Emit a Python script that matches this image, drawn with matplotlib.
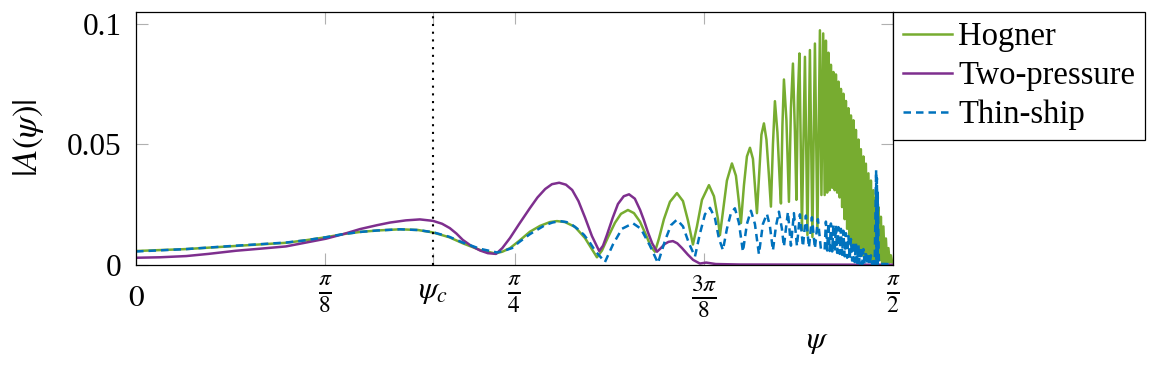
import numpy as np
import matplotlib
matplotlib.use("Agg")
import matplotlib.pyplot as plt

# far-field amplitude |A(psi)| for three ship-wave models
psi_c = 0.6155  # critical angle arctan(1/sqrt(2))

hogner_psi = [0.000, 0.104, 0.207, 0.311, 0.350, 0.394, 0.430, 0.465, 0.500, 0.548, 0.585, 0.616, 0.650,
              0.678, 0.714, 0.745, 0.760, 0.776, 0.795,
              0.8174, 0.8382, 0.8589, 0.8734, 0.8900, 0.9108, 0.9315, 0.9461, 0.9564, 0.9668, 0.9793,
              0.9938, 1.0062, 1.0207, 1.0332, 1.0456, 1.0581, 1.0685, 1.0768, 1.0851, 1.0954, 1.1079,
              1.1224, 1.1349, 1.1452, 1.1556, 1.1639, 1.1743, 1.1888, 1.1992, 1.2075, 1.2116, 1.2178,
              1.2261, 1.2365, 1.2448, 1.2510, 1.2552, 1.2614, 1.2676, 1.2739, 1.2801, 1.2842, 1.2884,
              1.2936, 1.2977, 1.3029, 1.3081, 1.3133, 1.3174, 1.3216, 1.3257, 1.3309, 1.3361, 1.3382,
              1.3413, 1.3444, 1.3496, 1.3548, 1.3589, 1.3631, 1.3672, 1.3703, 1.3734, 1.3766, 1.3817,
              1.3880, 1.3932, 1.3983, 1.4035, 1.4087, 1.4139, 1.4191, 1.4222, 1.4259,
              1.4289, 1.4315, 1.4341, 1.4367, 1.4393, 1.4419, 1.4445, 1.4471, 1.4497, 1.4523,
              1.4549, 1.4575, 1.4601, 1.4627, 1.4652, 1.4678, 1.4704, 1.4730, 1.4756, 1.4782,
              1.4808, 1.4834, 1.4860, 1.4886, 1.4912, 1.4938, 1.4964, 1.4990, 1.5015, 1.5041,
              1.5067, 1.5093, 1.5119, 1.5145, 1.5171, 1.5197, 1.5223, 1.5249, 1.5275, 1.5301,
              1.5327, 1.5353, 1.5379, 1.5405, 1.5430, 1.5456, 1.5482, 1.5508, 1.5534, 1.5560,
              1.5586, 1.5612, 1.5638, 1.5664, 1.5690, 1.5705]
hogner_amp = [0.0058, 0.0066, 0.0079, 0.0092, 0.0102, 0.0115, 0.0128, 0.0137, 0.0143, 0.0148, 0.0145, 0.0135, 0.0115,
              0.0090, 0.0062, 0.0048, 0.0055, 0.0070, 0.0100,
              0.0138, 0.0162, 0.0178, 0.0182, 0.0178, 0.0158, 0.0112, 0.0065, 0.0032, 0.0060, 0.0115,
              0.0175, 0.0212, 0.0228, 0.0215, 0.0180, 0.0125, 0.0075, 0.0055, 0.0110, 0.0190, 0.0262,
              0.0298, 0.0265, 0.0185, 0.0085, 0.0160, 0.0270, 0.0331, 0.0285, 0.0190, 0.0124, 0.0220,
              0.0350, 0.0421, 0.0370, 0.0260, 0.0174, 0.0330, 0.0450, 0.0486, 0.0440, 0.0330, 0.0215,
              0.0400, 0.0540, 0.0587, 0.0520, 0.0370, 0.0242, 0.0500, 0.0679, 0.0550, 0.0330, 0.0255,
              0.0580, 0.0769, 0.0600, 0.0262, 0.0650, 0.0835, 0.0550, 0.0270, 0.0700, 0.0877, 0.0145,
              0.0863, 0.0124, 0.0891, 0.0116, 0.0918, 0.0137, 0.0973, 0.0290, 0.0960,
              0.029, 0.093, 0.030, 0.088, 0.031, 0.083, 0.032, 0.080, 0.031, 0.079,
              0.030, 0.076, 0.028, 0.073, 0.024, 0.071, 0.019, 0.068, 0.015, 0.065,
              0.011, 0.062, 0.008, 0.060, 0.006, 0.056, 0.005, 0.052, 0.004, 0.048,
              0.004, 0.045, 0.003, 0.042, 0.003, 0.038, 0.003, 0.035, 0.002, 0.031,
              0.002, 0.028, 0.002, 0.024, 0.002, 0.020, 0.001, 0.016, 0.001, 0.011,
              0.001, 0.007, 0.001, 0.004, 0.001, 0.0012]

twop_psi = [0.000, 0.050, 0.104, 0.150, 0.207, 0.260, 0.311, 0.350, 0.394, 0.430, 0.465, 0.500, 0.527,
            0.560, 0.589, 0.616, 0.635, 0.651, 0.665, 0.678, 0.695, 0.714, 0.730, 0.747, 0.760, 0.776,
            0.795, 0.817, 0.833, 0.849, 0.863, 0.878, 0.892, 0.905, 0.918, 0.932, 0.946, 0.961, 0.969,
            0.977, 0.989, 1.000, 1.012, 1.023, 1.035, 1.046, 1.054, 1.062, 1.071, 1.081, 1.089, 1.097,
            1.105, 1.114, 1.123, 1.133, 1.145, 1.156, 1.170, 1.183, 1.203, 1.253, 1.571]
twop_amp = [0.0030, 0.0032, 0.0037, 0.0046, 0.0059, 0.0068, 0.0077, 0.0092, 0.0109, 0.0128, 0.0149, 0.0165, 0.0176,
            0.0185, 0.0189, 0.0183, 0.0171, 0.0153, 0.0130, 0.0104, 0.0080, 0.0060, 0.0049, 0.0046, 0.0070, 0.0112,
            0.0170, 0.0235, 0.0280, 0.0315, 0.0335, 0.0341, 0.0333, 0.0311, 0.0265, 0.0195, 0.0120, 0.0058, 0.0080,
            0.0124, 0.0195, 0.0253, 0.0285, 0.0293, 0.0275, 0.0228, 0.0185, 0.0137, 0.0090, 0.0055, 0.0070, 0.0087,
            0.0096, 0.0099, 0.0090, 0.0070, 0.0043, 0.0021, 0.0006, 0.0010, 0.0004, 0.0002, 0.0001]

thin_psi = [0.000, 0.104, 0.207, 0.311, 0.350, 0.394, 0.430, 0.465, 0.500, 0.548, 0.585, 0.616, 0.650,
            0.678, 0.714, 0.749, 0.762, 0.780, 0.795,
            0.8174, 0.8485, 0.8640, 0.8797, 0.8930, 0.9025, 0.9160, 0.9295, 0.9410, 0.9523, 0.9730,
            0.9896, 1.0083, 1.0311, 1.0477,
            1.0664, 1.0830, 1.0975, 1.1100, 1.1224, 1.1349, 1.1473, 1.1598, 1.1701, 1.1805, 1.1909,
            1.2012, 1.2095, 1.2178, 1.2261, 1.2344, 1.2427, 1.2510, 1.2593, 1.2676, 1.2759, 1.2842,
            1.2925, 1.3008, 1.3091, 1.3154, 1.3216, 1.3278, 1.3340, 1.3402, 1.3444, 1.3485, 1.3527,
            1.3589, 1.3651, 1.3714, 1.3776, 1.3838, 1.3900, 1.3963, 1.4025, 1.4087, 1.4149, 1.4212,
            1.4289, 1.4315, 1.4341, 1.4367, 1.4393, 1.4419, 1.4445, 1.4471, 1.4497, 1.4523,
            1.4549, 1.4575, 1.4601, 1.4627, 1.4652, 1.4678, 1.4704, 1.4730, 1.4756, 1.4782,
            1.4808, 1.4834, 1.4860, 1.4886, 1.4912, 1.4938, 1.4964, 1.4990, 1.5015, 1.5041,
            1.5067, 1.5093, 1.5119, 1.5145, 1.5171, 1.5197, 1.5223, 1.5249, 1.5275, 1.5301,
            1.5327, 1.5357, 1.5365, 1.5373, 1.5382, 1.5390, 1.5415, 1.5436, 1.5705]
thin_amp = [0.0056, 0.0066, 0.0080, 0.0093, 0.0102, 0.0115, 0.0128, 0.0137, 0.0143, 0.0148, 0.0145, 0.0136, 0.0117,
            0.0093, 0.0067, 0.0052, 0.0058, 0.0070, 0.0095,
            0.0128, 0.0165, 0.0176, 0.0182, 0.0178, 0.0170, 0.0150, 0.0125, 0.0095, 0.0060, 0.0012,
            0.0085, 0.0150, 0.0173, 0.0150,
            0.0080, 0.0008, 0.0100, 0.0165, 0.0188, 0.0160, 0.0090, 0.0035, 0.0130, 0.0210, 0.0237,
            0.0195, 0.0110, 0.0062, 0.0150, 0.0215, 0.0235, 0.0175, 0.0055, 0.0170, 0.0225, 0.0170,
            0.0045, 0.0170, 0.0212, 0.0160, 0.0060, 0.0160, 0.0221, 0.0150, 0.0076, 0.0150, 0.0220,
            0.0080, 0.0215, 0.0078, 0.0210, 0.0076, 0.0205, 0.0072, 0.0198, 0.0068, 0.0190, 0.0065,
            0.0062, 0.0180, 0.0060, 0.0176, 0.0058, 0.0172, 0.0056, 0.0168, 0.0054, 0.0163,
            0.0050, 0.0157, 0.0046, 0.0150, 0.0042, 0.0142, 0.0036, 0.0132, 0.0030, 0.0120,
            0.0024, 0.0108, 0.0018, 0.0098, 0.0012, 0.0090, 0.0008, 0.0082, 0.0005, 0.0075,
            0.0003, 0.0066, 0.0002, 0.0058, 0.0002, 0.0050, 0.0001, 0.0040, 0.0001, 0.0030,
            0.0001, 0.0394, 0.0002, 0.0360, 0.0002, 0.0300, 0.0004, 0.0005, 0.0003]

tick_pos = [0, np.pi / 8, psi_c, np.pi / 4, 3 * np.pi / 8, np.pi / 2]
tick_lbl = [r'$0$', r'$\frac{\pi}{8}$', r'$\psi_c$', r'$\frac{\pi}{4}$', r'$\frac{3\pi}{8}$', r'$\frac{\pi}{2}$']
ytick_pos = [0, 0.05, 0.1]
ytick_lbl = ['0', '0.05', '0.1']

plt.rcParams['font.family'] = 'serif'
plt.rcParams['font.serif'] = ['Liberation Serif', 'DejaVu Serif']
plt.rcParams['mathtext.fontset'] = 'stix'
fs = 22.5

fig = plt.figure(figsize=(11.52, 3.68), dpi=100)
ax = fig.add_axes([0.1181, 0.2799, 0.6571, 0.6883])

ax.plot(hogner_psi, hogner_amp, color='#77AC30', lw=1.8, label='Hogner')
ax.plot(twop_psi, twop_amp, color='#7E2F8E', lw=1.8, label='Two-pressure')
ax.plot(thin_psi, thin_amp, color='#0072BD', lw=1.8, linestyle=(0, (3, 2)), label='Thin-ship')
ax.axvline(psi_c, color='black', lw=1.5, linestyle=(0, (1, 2.7)))

ax.set_xlim(0, np.pi / 2)
ax.set_ylim(0, 0.105)
ax.set_xticks(tick_pos)
ax.set_xticklabels(tick_lbl)
ax.set_yticks(ytick_pos)
ax.set_yticklabels(ytick_lbl)
ax.tick_params(direction='in', length=8.5, width=0.8, color='#b0b0b0', top=True, right=True,
               labelsize=fs, labelcolor='black')
ax.tick_params(axis='y', pad=10.5)
# fractions come out small and low in mathtext, so size/pad each x label on its own
for i, tk in enumerate(ax.xaxis.get_major_ticks()):
    if 'frac' in tick_lbl[i]:
        tk.label1.set_fontsize(24)
        tk.set_pad(6.5)
    elif tick_lbl[i] == r'$0$':
        tk.set_pad(13.5)
    else:
        tk.set_pad(9)
for s in ax.spines.values():
    s.set_linewidth(0.9)

ax.set_ylabel(r'$|A(\psi)|$', fontsize=25)
ax.yaxis.set_label_coords(-0.119, 0.5)
ax.set_xlabel(r'$\psi$', fontsize=fs)
ax.xaxis.set_label_coords(0.900, -0.245)

leg = ax.legend(loc='upper left', bbox_to_anchor=(1.0, 1.0), borderaxespad=0, fontsize=23.5,
                handlelength=1.5, handletextpad=0.2, labelspacing=0.26, borderpad=0.3,
                fancybox=False, framealpha=1, edgecolor='black')
leg.get_frame().set_linewidth(0.9)

plt.savefig('out.png', dpi=100)
